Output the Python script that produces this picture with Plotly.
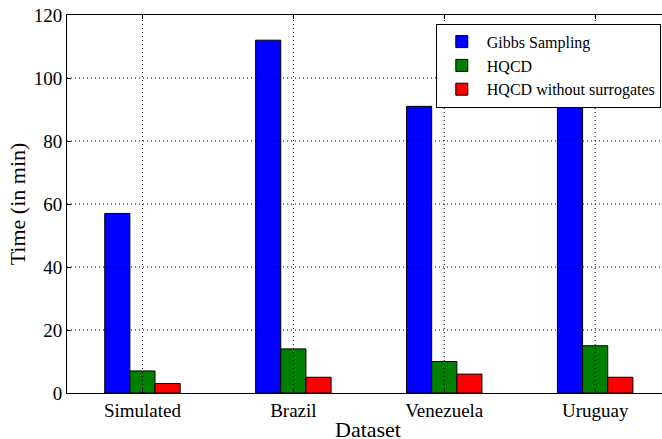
import plotly.graph_objects as go

categories = ["Simulated", "Brazil", "Venezuela", "Uruguay"]
gibbs = [57, 112, 91, 100]
hqcd = [7, 14, 10, 15]
hqcd_nosur = [3, 5, 6, 5]
y_ticks = [0, 20, 40, 60, 80, 100, 120]

series = [
    ("Gibbs Sampling", gibbs, "#0000ff"),
    ("HQCD", hqcd, "#008000"),
    ("HQCD without surrogates", hqcd_nosur, "#ff0000"),
]

font_family = "Liberation Serif"

fig = go.Figure()
for name, vals, col in series:
    fig.add_trace(go.Bar(
        x=list(range(len(categories))), y=vals, name=name,
        marker=dict(color=col, line=dict(color="black", width=1)),
    ))

grid_line = dict(color="black", width=1, dash="1px,3px")
shapes = []
for i in range(len(categories)):
    shapes.append(dict(type="line", xref="x", yref="paper", x0=i, x1=i, y0=0, y1=1,
                       line=grid_line, layer="above"))
for t in y_ticks[1:-1]:
    shapes.append(dict(type="line", xref="paper", yref="y", x0=0, x1=1, y0=t, y1=t,
                       line=grid_line, layer="above"))

fig.update_layout(
    width=662, height=439,
    margin=dict(l=67, r=0, t=15, b=46),
    paper_bgcolor="white", plot_bgcolor="white",
    barmode="group", bargap=0.5, bargroupgap=0,
    font=dict(family=font_family, size=19, color="black"),
    shapes=shapes,
    annotations=[dict(text="Dataset", xref="paper", yref="paper", x=0.506, y=0,
                      xanchor="center", yanchor="middle", yshift=-36, showarrow=False,
                      borderpad=0,
                      font=dict(family=font_family, size=22, color="black"))],
    showlegend=True,
    legend=dict(
        x=0.998, xanchor="right", y=0.977, yanchor="top",
        bgcolor="white", bordercolor="black", borderwidth=1,
        font=dict(family=font_family, size=16, color="black"),
        tracegroupgap=0, itemwidth=40,
    ),
    xaxis=dict(
        range=[-0.5, 3.443], automargin=False,
        tickmode="array", tickvals=list(range(len(categories))), ticktext=categories,
        showgrid=False, zeroline=False,
        showline=True, linecolor="black", linewidth=1, mirror="ticks",
        ticks="inside", ticklen=4, tickcolor="black",
    ),
    yaxis=dict(
        range=[0, 120], automargin=False,
        tickmode="array", tickvals=y_ticks,
        showgrid=False, zeroline=False,
        showline=True, linecolor="black", linewidth=1,
        ticks="inside", ticklen=4, tickcolor="black",
        title=dict(text="Time (in min)", font=dict(size=22), standoff=2),
    ),
)

fig.write_html("out.html")
